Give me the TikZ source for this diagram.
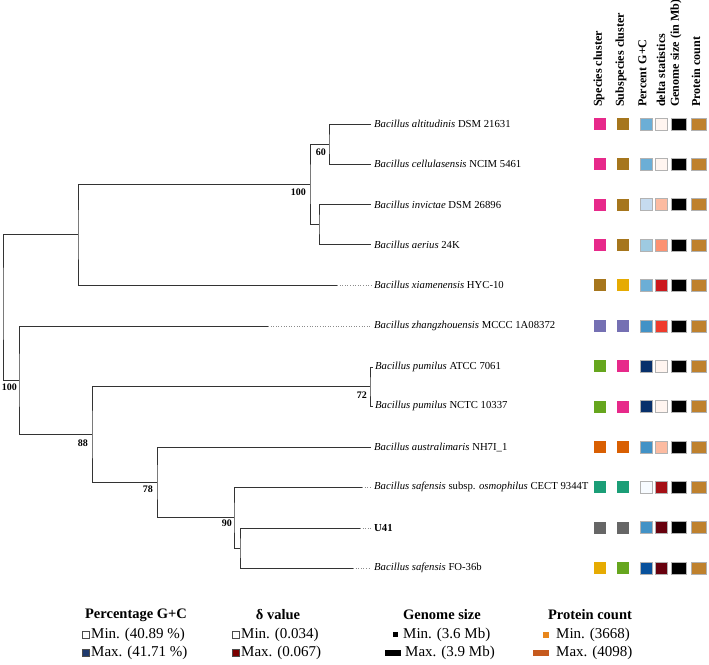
\documentclass[tikz,border=0pt]{standalone}
\usepackage{fontspec}
\setmainfont{Liberation Serif}
\definecolor{pinkc}{HTML}{E7298A}
\definecolor{brownc}{HTML}{A6761D}
\definecolor{yellowc}{HTML}{E6AB02}
\definecolor{purplec}{HTML}{7570B3}
\definecolor{greenc}{HTML}{66A61E}
\definecolor{orangec}{HTML}{D95F02}
\definecolor{tealc}{HTML}{1B9E77}
\definecolor{grayc}{HTML}{666666}
\definecolor{gca}{HTML}{6BAED6}
\definecolor{gcb}{HTML}{C6DBEF}
\definecolor{gcc}{HTML}{9ECAE1}
\definecolor{gcd}{HTML}{4292C6}
\definecolor{gce}{HTML}{08306B}
\definecolor{gcf}{HTML}{F7FBFF}
\definecolor{gcg}{HTML}{08519C}
\definecolor{da}{HTML}{FFF5F0}
\definecolor{db}{HTML}{FCBBA1}
\definecolor{dc}{HTML}{FC9272}
\definecolor{dd}{HTML}{CB181D}
\definecolor{de}{HTML}{EF3B2C}
\definecolor{df}{HTML}{A50F15}
\definecolor{dg}{HTML}{67000D}
\definecolor{tanc}{HTML}{BF812D}
\definecolor{navyc}{HTML}{1F3A6E}
\definecolor{maroonc}{HTML}{7B0000}
\definecolor{porange}{HTML}{E8861C}
\definecolor{pdark}{HTML}{C65A1E}
\begin{document}
\begin{tikzpicture}[x=1pt,y=-1pt,
  br/.style={draw=black!80, line width=0.9pt},
  ext/.style={draw=black!45, line width=0.8pt, dash pattern=on 0.8pt off 1.8pt},
  taxon/.style={anchor=west, inner sep=0pt, xshift=3pt, font=\fontsize{10.7}{12}\selectfont},
  boot/.style={anchor=east, inner sep=0pt, font=\fontsize{10}{12}\selectfont\bfseries},
  hdr/.style={anchor=west, rotate=90, inner sep=0pt, font=\fontsize{12.1}{14}\selectfont\bfseries},
  sq/.style={draw=black!30, line width=0.5pt, minimum width=12pt, minimum height=12pt, inner sep=0pt},
  wsq/.style={sq, minimum width=15pt},
  lgt/.style={inner sep=0pt, font=\fontsize{14.5}{16}\selectfont\bfseries},
  lgi/.style={anchor=west, inner sep=0pt, font=\fontsize{15}{17}\selectfont},
  lsq/.style={draw=black!70, line width=0.6pt, minimum width=7pt, minimum height=7pt, inner sep=0pt}
]
\useasboundingbox (0,0) rectangle (709,664);

% leaves
\coordinate (L1) at (371,124);
\coordinate (L2) at (371,164);
\coordinate (L3) at (371,204.5);
\coordinate (L4) at (371,244.5);
\coordinate (L5) at (371,285);
\coordinate (L6) at (371,326);
\coordinate (L7) at (373,367);
\coordinate (L8) at (373,406);
\coordinate (L9) at (371,447);
\coordinate (L10) at (371,487);
\coordinate (L11) at (371,528);
\coordinate (L12) at (371,568);
% solid ends
\coordinate (S5) at (337,285);
\coordinate (S6) at (268,326);
\coordinate (S10) at (362,487);
\coordinate (S11) at (360,528);
\coordinate (S12) at (353,568);
% internal nodes
\coordinate (n60) at (329,144);
\coordinate (nIA) at (319,224.5);
\coordinate (n100a) at (310,184);
\coordinate (nTop) at (78,234.5);
\coordinate (nR) at (3,300);
\coordinate (n2nd) at (19,380);
\coordinate (n88) at (92,434.5);
\coordinate (n72) at (370,386.5);
\coordinate (n78) at (157,482);
\coordinate (n90) at (234,517.5);
\coordinate (nU) at (240,548);

\draw[br] (L1) -| (n60) |- (L2);
\draw[br] (L3) -| (nIA) |- (L4);
\draw[br] (n60) -| (n100a) |- (nIA);
\draw[br] (n100a) -| (nTop) |- (S5);
\draw[ext] (S5) -- (L5);
\draw[br] (nTop) -| (nR) |- (n2nd);
\draw[br] (S6) -| (n2nd) |- (n88);
\draw[ext] (S6) -- (L6);
\draw[br] (n72) -| (n88) |- (n78);
\draw[br] (L7) -| (n72) |- (L8);
\draw[br] (L9) -| (n78) |- (n90);
\draw[br] (S10) -| (n90) |- (nU);
\draw[ext] (S10) -- (L10);
\draw[br] (S11) -| (nU) |- (S12);
\draw[ext] (S11) -- (L11);
\draw[ext] (S12) -- (L12);

% bootstrap values
\node[boot] (b60) at ([xshift=-3pt,yshift=-8pt]n60) {60};
\node[boot] (b100a) at ([xshift=-4pt,yshift=-8pt]n100a) {100};
\node[boot] (b100r) at ([xshift=-2pt,yshift=-7pt]n2nd) {100};
\node[boot] (b88) at ([xshift=-4pt,yshift=-8.5pt]n88) {88};
\node[boot] (b72) at ([xshift=-3pt,yshift=-8.5pt]n72) {72};
\node[boot] (b78) at ([xshift=-4pt,yshift=-7pt]n78) {78};
\node[boot] (b90) at ([xshift=-2pt,yshift=-5.5pt]n90) {90};

% taxa
\node[taxon] (T1) at (L1) {\textit{Bacillus altitudinis} DSM 21631};
\node[taxon] (T2) at (L2) {\textit{Bacillus cellulasensis} NCIM 5461};
\node[taxon] (T3) at (L3) {\textit{Bacillus invictae} DSM 26896};
\node[taxon] (T4) at (L4) {\textit{Bacillus aerius} 24K};
\node[taxon] (T5) at (L5) {\textit{Bacillus xiamenensis} HYC-10};
\node[taxon] (T6) at (L6) {\textit{Bacillus zhangzhouensis} MCCC 1A08372};
\node[taxon,xshift=-1pt] (T7) at (L7) {\textit{Bacillus pumilus} ATCC 7061};
\node[taxon,xshift=-1pt] (T8) at (L8) {\textit{Bacillus pumilus} NCTC 10337};
\node[taxon] (T9) at (L9) {\textit{Bacillus australimaris} NH7I\_1};
\node[taxon] (T10) at (L10) {\textit{Bacillus safensis} subsp. \textit{osmophilus} CECT 9344T};
\node[taxon] (T11) at (L11) {\textbf{U41}};
\node[taxon] (T12) at (L12) {\textit{Bacillus safensis} FO-36b};

% headers
\node[hdr] (h1) at (599,107) {Species cluster};
\node[hdr] (h2) at (621,107) {Subspecies cluster};
\node[hdr] (h3) at (642.5,107) {Percent G+C};
\node[hdr] (h4) at (661,107) {delta statistics};
\node[hdr] (h5) at (676,107) {Genome size (in Mb)};
\node[hdr] (h6) at (696,107) {Protein count};

% colour squares
\foreach \r/\a/\b/\c/\d in {1/pinkc/brownc/gca/da, 2/pinkc/brownc/gca/da,
  3/pinkc/brownc/gcb/db, 4/pinkc/brownc/gcc/dc, 5/brownc/yellowc/gca/dd,
  6/purplec/purplec/gcd/de, 7/greenc/pinkc/gce/da, 8/greenc/pinkc/gce/da,
  9/orangec/orangec/gcd/db, 10/tealc/tealc/gcf/df, 11/grayc/grayc/gcd/dg,
  12/yellowc/greenc/gcg/dg}{
  \pgfmathsetmacro{\yy}{124+40.36*(\r-1)}
  \node[sq,draw=none,fill=\a] (qa\r) at (600,\yy) {};
  \node[sq,draw=none,fill=\b] (qb\r) at (623,\yy) {};
  \node[sq,fill=\c] (qc\r) at (646,\yy) {};
  \node[sq,fill=\d] (qd\r) at (661,\yy) {};
  \node[wsq,fill=black] (qe\r) at (678.5,\yy) {};
  \node[wsq,fill=tanc] (qf\r) at (698.5,\yy) {};
}

% legend
\node[lgt] (g1) at (136,615) {Percentage G+C};
\node[lsq,fill=white] (g1a) at (86,635) {};
\node[lgi] (g1at) at (91,635) {Min. (40.89 \%)};
\node[lsq,fill=navyc] (g1b) at (86,653) {};
\node[lgi] (g1bt) at (91,653) {Max. (41.71 \%)};

\node[lgt] (g2) at (278,615) {δ value};
\node[lsq,fill=white] (g2a) at (236,635) {};
\node[lgi] (g2at) at (241,635) {Min. (0.034)};
\node[lsq,fill=maroonc] (g2b) at (236,653) {};
\node[lgi] (g2bt) at (241,653) {Max. (0.067)};

\node[lgt] (g3) at (442,615) {Genome size};
\node[inner sep=0pt,minimum width=5pt,minimum height=5pt,fill=black] (g3a) at (395.5,634.5) {};
\node[lgi] (g3at) at (403,635) {Min. (3.6 Mb)};
\node[inner sep=0pt,minimum width=16pt,minimum height=6pt,fill=black] (g3b) at (393,653) {};
\node[lgi] (g3bt) at (405,653) {Max. (3.9 Mb)};

\node[lgt] (g4) at (590,615) {Protein count};
\node[inner sep=0pt,minimum width=6pt,minimum height=6pt,fill=porange] (g4a) at (546,635) {};
\node[lgi] (g4at) at (556,635) {Min. (3668)};
\node[inner sep=0pt,minimum width=16pt,minimum height=6pt,fill=pdark] (g4b) at (541,653) {};
\node[lgi] (g4bt) at (556,653) {Max. (4098)};
\end{tikzpicture}
\end{document}
